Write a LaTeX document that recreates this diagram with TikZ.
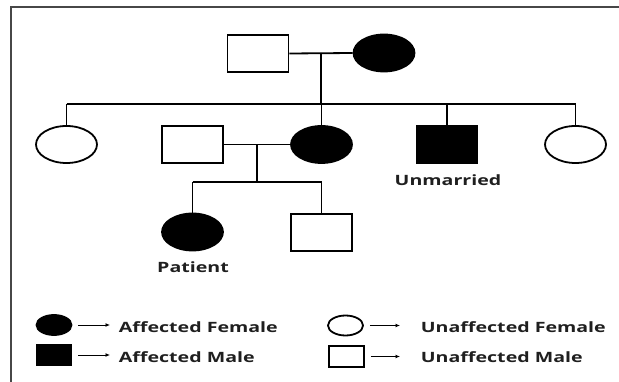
\documentclass[tikz,border=0pt]{standalone}
\usepackage{fontspec}
\setmainfont{Open Sans}[FakeStretch=1.38]
\usetikzlibrary{arrows.meta,shapes.geometric}
\begin{document}
\begin{tikzpicture}[x=1pt,y=-1pt,
  line width=1.8pt,
  male/.style={draw,rectangle,minimum width=61pt,minimum height=37pt,inner sep=0pt},
  female/.style={draw,ellipse,minimum width=61pt,minimum height=37pt,inner sep=0pt},
  aff/.style={fill=black},
  lmale/.style={draw,rectangle,minimum width=35pt,minimum height=21pt,inner sep=0pt},
  lfemale/.style={draw,ellipse,minimum width=35pt,minimum height=20pt,inner sep=0pt},
  lab/.style={font=\bfseries\fontsize{14.2}{16}\selectfont,text=black!88,inner sep=0pt},
  larrow/.style={line width=0.9pt,-{Latex[length=4.5pt,width=4pt]}},
  frame/.style={draw=black!72,line width=2pt}
]
\useasboundingbox (0,0) rectangle (619,382);
\fill[white] (0,0) rectangle (619,382);
\coordinate (fa) at (11,382);
\coordinate (fb) at (11,7);
\coordinate (fc) at (619,7);
\draw[frame] (fa) -- (fb) -- (fc);

% generation I
\node[male] (gf) at (258,53.5) {};
\node[female,aff] (gm) at (384,53) {};
\draw (gf.east) -- (gm.west);
\coordinate (m1) at (321,53);
\coordinate (s1) at (321,104);
\draw (m1) -- (s1);

% generation II
\node[female] (c1) at (66.5,144.5) {};
\node[male] (sp) at (192.5,144.5) {};
\node[female,aff] (d2) at (321.5,144.5) {};
\node[male,aff] (um) at (447,144.5) {};
\node[female] (c5) at (575.5,144.5) {};
\draw (c1.north |- s1) -- (c5.north |- s1);
\draw (c1.north |- s1) -- (c1.north);
\draw (d2.north |- s1) -- (d2.north);
\draw (um.north |- s1) -- (um.north);
\draw (c5.north |- s1) -- (c5.north);
\draw (sp.east) -- (d2.west);
\node[lab] (unm) at (448,180) {Unmarried};

% generation III
\coordinate (m2) at (257,144.5);
\coordinate (s2) at (257,182);
\draw (m2) -- (s2);
\node[female,aff] (pt) at (192.5,232) {};
\node[male] (br) at (321.5,232.5) {};
\draw (pt.north |- s2) -- (br.north |- s2);
\draw (pt.north |- s2) -- (pt.north);
\draw (br.north |- s2) -- (br.north);
\node[lab] (ptl) at (193,267) {Patient};

% legend
\node[lfemale,aff] (lg1) at (54,325) {};
\node[lmale,aff] (lg2) at (54,355) {};
\node[lfemale] (lg3) at (345.5,325.5) {};
\node[lmale] (lg4) at (346.5,356.5) {};
\node[lab,anchor=west] (t1) at (118,327) {Affected Female};
\node[lab,anchor=west] (t2) at (118,357) {Affected Male};
\node[lab,anchor=west] (t3) at (420,327) {Unaffected Female};
\node[lab,anchor=west] (t4) at (420,357) {Unaffected Male};
\draw[larrow,shorten <=6pt,shorten >=8pt] (lg1.east) -- (lg1.east -| t1.west);
\draw[larrow,shorten <=6pt,shorten >=8pt] (lg2.east) -- (lg2.east -| t2.west);
\draw[larrow,shorten <=6pt,shorten >=20pt] (lg3.east) -- (lg3.east -| t3.west);
\draw[larrow,shorten <=6pt,shorten >=20pt] (lg4.east) -- (lg4.east -| t4.west);
\end{tikzpicture}
\end{document}
